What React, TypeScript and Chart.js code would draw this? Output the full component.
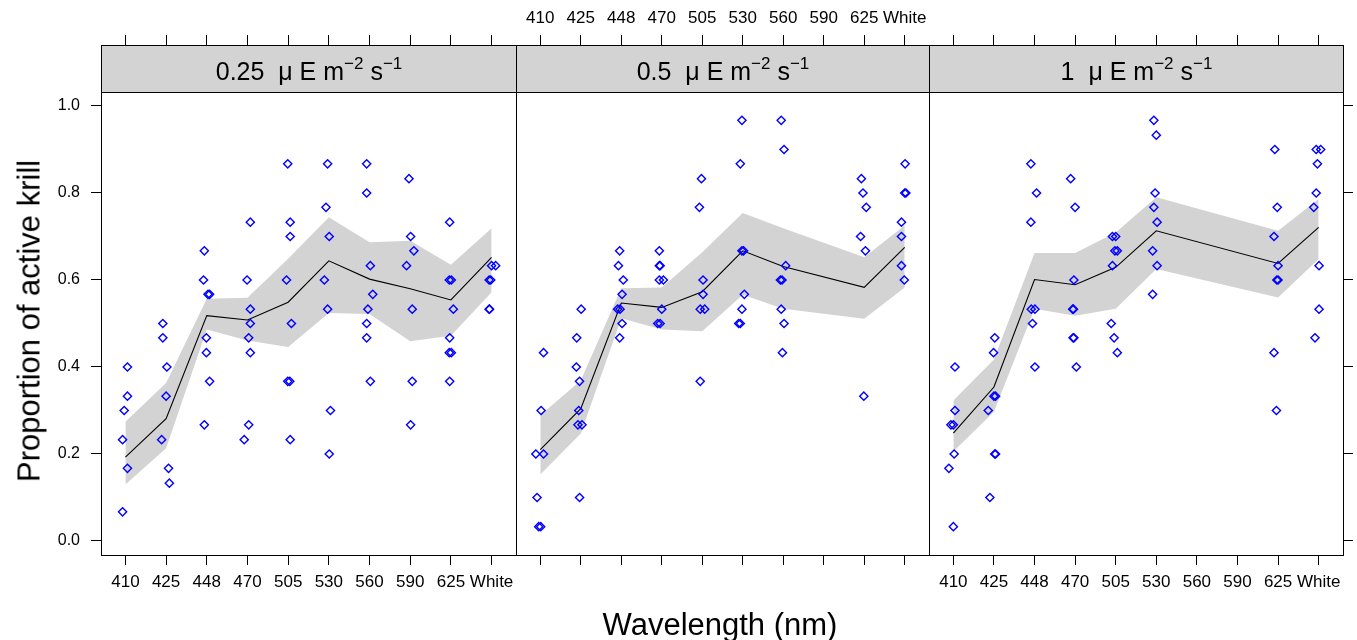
import React, { useEffect, useRef } from 'react';
import { Chart, registerables } from 'chart.js';

Chart.register(...registerables);

// ---------------- data ----------------
const categories = ['410', '425', '448', '470', '505', '530', '560', '590', '625', 'White'];
const yTickValues = [0, 0.2, 0.4, 0.6, 0.8, 1.0];
const intensityLabels = ['0.25', '0.5', '1'];

// fitted mean and confidence band, panel 1 (0.25)
const fitCats1 = [0, 1, 2, 3, 4, 5, 6, 7, 8, 9];
const fitMean1 = [0.193, 0.281, 0.518, 0.508, 0.549, 0.644, 0.602, 0.58, 0.554, 0.652];
const fitUpper1 = [0.274, 0.363, 0.557, 0.559, 0.649, 0.744, 0.687, 0.69, 0.635, 0.719];
const fitLower1 = [0.13, 0.213, 0.486, 0.461, 0.446, 0.524, 0.522, 0.459, 0.472, 0.572];

// panel 2 (0.5) – no 590 observations
const fitCats2 = [0, 1, 2, 3, 4, 5, 6, 8, 9];
const fitMean2 = [0.21, 0.304, 0.547, 0.537, 0.573, 0.667, 0.631, 0.583, 0.675];
const fitUpper2 = [0.289, 0.369, 0.581, 0.583, 0.664, 0.754, 0.719, 0.652, 0.725];
const fitLower2 = [0.153, 0.247, 0.512, 0.486, 0.482, 0.566, 0.534, 0.511, 0.583];

// panel 3 (1) – no 560 / 590 observations
const fitCats3 = [0, 1, 2, 3, 4, 5, 8, 9];
const fitMean3 = [0.248, 0.354, 0.601, 0.589, 0.629, 0.713, 0.638, 0.721];
const fitUpper3 = [0.323, 0.417, 0.662, 0.662, 0.709, 0.79, 0.713, 0.786];
const fitLower3 = [0.206, 0.297, 0.534, 0.518, 0.534, 0.625, 0.56, 0.648];

// observations: [category index, horizontal jitter, proportion active]
const obs1 = [
  [0, 0.05, 0.4], [0, 0.05, 0.333], [0, -0.03, 0.3], [0, -0.07, 0.233], [0, 0.05, 0.167], [0, -0.07, 0.067],
  [1, -0.08, 0.5], [1, -0.08, 0.467], [1, 0.02, 0.4], [1, 0, 0.333], [1, -0.11, 0.233], [1, 0.06, 0.167], [1, 0.08, 0.133],
  [2, -0.06, 0.667], [2, -0.08, 0.6], [2, 0.03, 0.567], [2, 0.07, 0.567], [2, -0.01, 0.467], [2, -0.01, 0.433], [2, 0.07, 0.367], [2, -0.06, 0.267],
  [3, 0.07, 0.733], [3, -0.01, 0.6], [3, 0.07, 0.533], [3, 0.07, 0.5], [3, 0.03, 0.467], [3, 0.07, 0.433], [3, 0.03, 0.267], [3, -0.08, 0.233],
  [4, -0.01, 0.867], [4, 0.05, 0.733], [4, 0.05, 0.7], [4, -0.04, 0.6], [4, 0.08, 0.5], [4, -0.01, 0.367], [4, 0.04, 0.367], [4, 0.05, 0.233],
  [5, -0.03, 0.867], [5, -0.07, 0.767], [5, 0.01, 0.7], [5, -0.11, 0.6], [5, -0.03, 0.533], [5, 0.04, 0.3], [5, 0.01, 0.2],
  [6, -0.07, 0.867], [6, -0.07, 0.8], [6, 0.02, 0.633], [6, 0.08, 0.567], [6, -0.04, 0.533], [6, -0.07, 0.5], [6, -0.07, 0.467], [6, 0.02, 0.367],
  [7, -0.03, 0.833], [7, 0.01, 0.7], [7, 0.09, 0.667], [7, -0.09, 0.633], [7, 0.05, 0.533], [7, 0.05, 0.367], [7, 0.01, 0.267],
  [8, -0.03, 0.733], [8, -0.04, 0.6], [8, 0.01, 0.6], [8, 0.06, 0.533], [8, -0.03, 0.467], [8, -0.04, 0.433], [8, 0.01, 0.433], [8, -0.03, 0.367],
  [9, 0, 0.633], [9, 0.1, 0.633], [9, -0.06, 0.6], [9, -0.02, 0.6], [9, -0.06, 0.533], [9, -0.05, 0.533],
];

const obs2 = [
  [0, 0.08, 0.433], [0, 0.02, 0.3], [0, -0.11, 0.2], [0, 0.08, 0.2], [0, -0.08, 0.1], [0, -0.04, 0.033], [0, 0.01, 0.033],
  [1, 0.01, 0.533], [1, -0.1, 0.467], [1, -0.11, 0.4], [1, -0.03, 0.367], [1, -0.05, 0.3], [1, -0.07, 0.267], [1, 0.03, 0.267], [1, -0.03, 0.1],
  [2, -0.04, 0.667], [2, -0.07, 0.633], [2, 0.05, 0.6], [2, 0.02, 0.567], [2, -0.09, 0.533], [2, -0.03, 0.533], [2, 0.02, 0.5], [2, -0.04, 0.467],
  [3, -0.06, 0.667], [3, -0.06, 0.633], [3, -0.04, 0.633], [3, -0.06, 0.6], [3, 0.04, 0.6], [3, 0, 0.533], [3, -0.1, 0.5], [3, -0.04, 0.5],
  [4, -0.02, 0.833], [4, -0.07, 0.767], [4, 0.02, 0.6], [4, 0.02, 0.567], [4, -0.05, 0.533], [4, 0.06, 0.533], [4, -0.05, 0.367],
  [5, -0.02, 0.967], [5, -0.06, 0.867], [5, -0.02, 0.667], [5, 0.02, 0.667], [5, 0.04, 0.567], [5, -0.02, 0.533], [5, -0.1, 0.5], [5, -0.06, 0.5],
  [6, -0.05, 0.967], [6, 0.02, 0.9], [6, 0.06, 0.633], [6, -0.07, 0.6], [6, -0.03, 0.6], [6, -0.05, 0.533], [6, 0.02, 0.5], [6, -0.02, 0.433],
  [8, -0.07, 0.833], [8, -0.03, 0.8], [8, 0.05, 0.767], [8, -0.09, 0.7], [8, 0.03, 0.667], [8, -0.01, 0.333],
  [9, 0.01, 0.867], [9, 0, 0.8], [9, 0.03, 0.8], [9, -0.08, 0.733], [9, -0.08, 0.7], [9, -0.08, 0.633], [9, -0.01, 0.6],
];

const obs3 = [
  [0, 0.04, 0.4], [0, 0.04, 0.3], [0, -0.06, 0.267], [0, 0, 0.267], [0, 0.02, 0.2], [0, -0.11, 0.167], [0, 0, 0.033],
  [1, 0.02, 0.467], [1, -0.01, 0.433], [1, 0, 0.333], [1, 0.04, 0.333], [1, -0.14, 0.3], [1, 0.02, 0.2], [1, 0.04, 0.2], [1, -0.1, 0.1],
  [2, -0.09, 0.867], [2, 0.05, 0.8], [2, -0.09, 0.733], [2, -0.08, 0.533], [2, 0.01, 0.533], [2, -0.05, 0.5], [2, 0.01, 0.4],
  [3, -0.11, 0.833], [3, 0, 0.767], [3, -0.03, 0.6], [3, -0.06, 0.533], [3, -0.04, 0.533], [3, -0.05, 0.467], [3, -0.03, 0.467], [3, 0.03, 0.4],
  [4, -0.08, 0.7], [4, 0, 0.7], [4, -0.02, 0.667], [4, 0.04, 0.667], [4, -0.08, 0.633], [4, -0.11, 0.5], [4, -0.04, 0.467], [4, 0.04, 0.433],
  [5, -0.06, 0.967], [5, 0, 0.933], [5, -0.03, 0.8], [5, -0.06, 0.767], [5, 0.02, 0.733], [5, -0.09, 0.667], [5, 0.02, 0.633], [5, -0.09, 0.567],
  [8, -0.08, 0.9], [8, -0.02, 0.767], [8, -0.1, 0.7], [8, 0, 0.633], [8, -0.03, 0.6], [8, 0, 0.6], [8, -0.1, 0.433], [8, -0.04, 0.3],
  [9, -0.06, 0.9], [9, 0.05, 0.9], [9, -0.03, 0.867], [9, -0.06, 0.8], [9, -0.12, 0.767], [9, 0.01, 0.633], [9, 0.01, 0.533], [9, -0.09, 0.467],
];

const panelData = [
  { cats: fitCats1, mean: fitMean1, upper: fitUpper1, lower: fitLower1, obs: obs1, label: intensityLabels[0] },
  { cats: fitCats2, mean: fitMean2, upper: fitUpper2, lower: fitLower2, obs: obs2, label: intensityLabels[1] },
  { cats: fitCats3, mean: fitMean3, upper: fitUpper3, lower: fitLower3, obs: obs3, label: intensityLabels[2] },
];

// ---------------- layout / style ----------------
const W = 1357;
const H = 640;
const FONT = '"Liberation Sans", Arial, Helvetica, sans-serif';
const STRIP_H = 47;
const GRAY = '#d3d3d3';
const BLUE = '#0000ff';
const geoms = [
  { left: 0, width: 526, padL: 0, padR: 10 },
  { left: 506, width: 433, padL: 10, padR: 10 },
  { left: 919, width: 438, padL: 10, padR: 0 },
];

function drawStripText(ctx: CanvasRenderingContext2D, cx: number, baseline: number, label: string) {
  const big = `25px ${FONT}`;
  const small = `17px ${FONT}`;
  const parts = [
    { t: label, f: big, dy: 0 },
    { t: '  \u03bc', f: big, dy: 0 },
    { t: ' E', f: big, dy: 0 },
    { t: ' m', f: big, dy: 0 },
    { t: '\u22122', f: small, dy: -11 },
    { t: ' s', f: big, dy: 0 },
    { t: '\u22121', f: small, dy: -11 },
  ];
  let total = 0;
  const widths = parts.map((p) => {
    ctx.font = p.f;
    const w = ctx.measureText(p.t).width;
    total += w;
    return w;
  });
  let x = cx - total / 2;
  ctx.fillStyle = '#000';
  ctx.textBaseline = 'alphabetic';
  ctx.textAlign = 'left';
  parts.forEach((p, i) => {
    ctx.font = p.f;
    ctx.fillText(p.t, x, baseline + p.dy);
    x += widths[i];
  });
}

function makeFramePlugin(label: string) {
  return {
    id: 'latticeFrame',
    afterDraw(chart: any) {
      const { ctx, chartArea } = chart;
      const l = Math.round(chartArea.left) + 0.5;
      const r = Math.round(chartArea.right) + 0.5;
      const t = Math.round(chartArea.top) + 0.5;
      const b = Math.round(chartArea.bottom) + 0.5;
      ctx.save();
      ctx.fillStyle = GRAY;
      ctx.fillRect(l, t, r - l, STRIP_H);
      ctx.strokeStyle = '#000';
      ctx.lineWidth = 1;
      ctx.beginPath();
      ctx.moveTo(l, t + STRIP_H);
      ctx.lineTo(r, t + STRIP_H);
      ctx.stroke();
      ctx.strokeRect(l, t, r - l, b - t);
      drawStripText(ctx, (l + r) / 2, t + 34, label);
      ctx.restore();
    },
  };
}

function tickFont(size: number) {
  return { family: FONT, size };
}

function buildConfig(pi: number) {
  const d = panelData[pi];
  const g = geoms[pi];
  const xTicks = (scale: any) => {
    scale.ticks = categories.map((_, i) => ({ value: i }));
  };
  const yTicks = (scale: any) => {
    scale.ticks = yTickValues.map((v) => ({ value: v }));
  };
  const xCommon = {
    type: 'linear',
    min: -0.6,
    max: 9.6,
    afterBuildTicks: xTicks,
    border: { display: false },
    grid: { drawOnChartArea: false, drawTicks: true, tickLength: 10, color: '#000', lineWidth: 1 },
  };
  const yCommon = {
    type: 'linear',
    min: -0.0322,
    max: 1.1402,
    afterBuildTicks: yTicks,
    border: { display: false },
    grid: { drawOnChartArea: false, drawTicks: true, tickLength: 10, color: '#000', lineWidth: 1 },
  };
  return {
    type: 'scatter',
    data: {
      datasets: [
        {
          type: 'line',
          data: d.cats.map((c, i) => ({ x: c, y: d.lower[i] })),
          borderWidth: 0,
          borderColor: 'rgba(0,0,0,0)',
          pointRadius: 0,
          fill: false,
          tension: 0,
          order: 3,
        },
        {
          type: 'line',
          data: d.cats.map((c, i) => ({ x: c, y: d.upper[i] })),
          borderWidth: 0,
          borderColor: 'rgba(0,0,0,0)',
          backgroundColor: GRAY,
          pointRadius: 0,
          fill: '-1',
          tension: 0,
          order: 2,
        },
        {
          type: 'line',
          data: d.cats.map((c, i) => ({ x: c, y: d.mean[i] })),
          borderWidth: 1.1,
          borderColor: '#000',
          pointRadius: 0,
          fill: false,
          tension: 0,
          order: 1,
        },
        {
          type: 'scatter',
          data: d.obs.map((o) => ({ x: o[0] + o[1], y: o[2] })),
          pointStyle: 'rectRot',
          pointRadius: 4.1,
          pointHoverRadius: 4.1,
          borderColor: BLUE,
          backgroundColor: 'rgba(0,0,0,0)',
          borderWidth: 1.4,
          order: 0,
        },
      ],
    },
    options: {
      responsive: false,
      animation: false,
      events: [],
      layout: { padding: { left: g.padL, right: g.padR, top: 0, bottom: 0 } },
      plugins: { legend: { display: false }, tooltip: { enabled: false }, title: { display: false } },
      scales: {
        x: {
          ...xCommon,
          position: 'bottom',
          afterFit: (s: any) => { s.height = H - 555; },
          ticks: {
            display: pi !== 1,
            autoSkip: false,
            maxRotation: 0,
            minRotation: 0,
            padding: 7,
            color: '#000',
            font: tickFont(17),
            callback: (v: any) => categories[Math.round(v)],
          },
        },
        xTop: {
          ...xCommon,
          position: 'top',
          afterFit: (s: any) => { s.height = 45; },
          ticks: {
            display: pi === 1,
            autoSkip: false,
            maxRotation: 0,
            minRotation: 0,
            padding: 6,
            color: '#000',
            font: tickFont(17),
            callback: (v: any) => categories[Math.round(v)],
          },
        },
        y: {
          ...yCommon,
          position: 'left',
          display: pi === 0,
          afterFit: (s: any) => { if (pi === 0) s.width = 101; },
          ticks: {
            padding: 11,
            color: '#000',
            font: tickFont(16),
            callback: (v: any) => Number(v).toFixed(1),
          },
        },
        yR: {
          ...yCommon,
          position: 'right',
          display: pi === 2,
          afterFit: (s: any) => { if (pi === 2) s.width = 14; },
          ticks: { display: false },
        },
      },
    },
    plugins: [makeFramePlugin(d.label)],
  };
}

export default function App() {
  const refs = [useRef<HTMLCanvasElement>(null), useRef<HTMLCanvasElement>(null), useRef<HTMLCanvasElement>(null)];

  useEffect(() => {
    const charts = refs.map((r, i) => new Chart(r.current as HTMLCanvasElement, buildConfig(i) as any));
    return () => charts.forEach((c) => c.destroy());
  }, []);

  return (
    <div style={{ position: 'absolute', left: 0, top: 0, width: W, height: H, background: '#fff', overflow: 'hidden' }}>
      {geoms.map((g, i) => (
        <canvas
          key={i}
          ref={refs[i]}
          width={g.width}
          height={H}
          style={{ position: 'absolute', left: g.left, top: 0, width: g.width, height: H }}
        />
      ))}
      <div
        style={{
          position: 'absolute',
          left: 29,
          top: 321,
          transform: 'translate(-50%, -50%) rotate(-90deg)',
          whiteSpace: 'nowrap',
          fontFamily: FONT,
          fontSize: 31,
          lineHeight: '31px',
          color: '#000',
        }}
      >
        Proportion of active krill
      </div>
      <div
        style={{
          position: 'absolute',
          left: 0,
          width: 1440,
          top: 609,
          textAlign: 'center',
          whiteSpace: 'nowrap',
          fontFamily: FONT,
          fontSize: 31,
          lineHeight: '31px',
          color: '#000',
        }}
      >
        Wavelength (nm)
      </div>
    </div>
  );
}
